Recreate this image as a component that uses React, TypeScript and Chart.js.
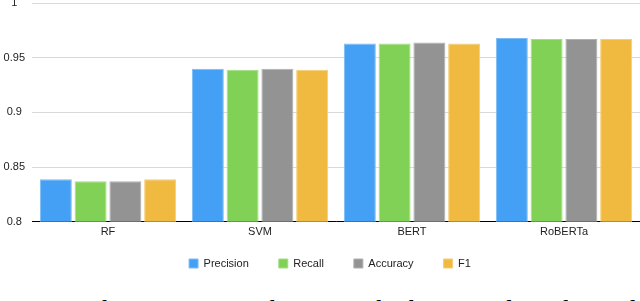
import React, { useEffect, useRef } from "react";
import { Chart, registerables } from "chart.js";

Chart.register(...registerables);

const categories = ["RF", "SVM", "BERT", "RoBERTa"];
const seriesNames = ["Precision", "Recall", "Accuracy", "F1"];
const precision = [0.839, 0.94, 0.963, 0.968];
const recall = [0.837, 0.939, 0.963, 0.967];
const accuracy = [0.837, 0.94, 0.964, 0.967];
const f1 = [0.839, 0.939, 0.963, 0.967];
const yMin = 0.8;
const yMax = 1;
const yStep = 0.05;
const caption = "Fig. 4: The comparison between the best results achieved";

const fills = ["#43a0f5", "#80d156", "#939393", "#f0ba40"];
const edges = ["#7dbcf7", "#a3de86", "#b0b0b0", "#f5cd75"];

const legendShift = {
  id: "legendShift",
  afterLayout(chart: any) {
    const l = chart.legend;
    if (!l) return;
    l.top -= 15;
    l.bottom -= 15;
    l.left += 10;
    l.right += 10;
  },
};

export default function App() {
  const ref = useRef<HTMLCanvasElement | null>(null);

  useEffect(() => {
    if (!ref.current) return;
    const values = [precision, recall, accuracy, f1];
    const chart = new Chart(ref.current, {
      type: "bar",
      data: {
        labels: categories,
        datasets: seriesNames.map((name, i) => ({
          label: name,
          data: values[i],
          backgroundColor: fills[i],
          borderColor: edges[i],
          borderWidth: 1,
          barPercentage: 0.92,
          categoryPercentage: 0.915,
        })),
      },
      options: {
        animation: false,
        responsive: true,
        maintainAspectRatio: false,
        layout: { padding: { top: 3, left: 0, right: 0, bottom: 0 } },
        plugins: {
          tooltip: { enabled: false },
          legend: {
            position: "bottom",
            labels: {
              boxWidth: 9,
              boxHeight: 9,
              padding: 30,
              color: "#222",
              font: { family: "'Liberation Sans', Arial, sans-serif", size: 11 },
            },
          },
        },
        scales: {
          x: {
            grid: { display: false, drawTicks: false },
            border: { display: true, color: "#000", width: 1 },
            ticks: {
              padding: 4,
              color: "#222",
              font: { family: "'Liberation Sans', Arial, sans-serif", size: 11 },
            },
          },
          y: {
            min: yMin,
            max: yMax,
            afterFit(scale: any) {
              scale.width = 32;
              scale.paddingTop = 0;
              scale.paddingBottom = 0;
            },
            grid: { color: "#d9d9d9", drawTicks: false },
            border: { display: false },
            ticks: {
              stepSize: yStep,
              padding: 7,
              crossAlign: "center",
              color: "#222",
              font: { family: "'Liberation Sans', Arial, sans-serif", size: 11 },
              callback: (v: any) => String(Number(Number(v).toFixed(2))),
            },
          },
        },
      },
      plugins: [legendShift],
    });
    return () => chart.destroy();
  }, []);

  return (
    <div style={{ position: "fixed", left: 0, top: 0, width: 640, height: 301, background: "#fff", overflow: "hidden" }}>
      <div style={{ position: "absolute", left: 0, top: 0, width: 640, height: 294 }}>
        <canvas ref={ref} />
      </div>
      <div
        style={{
          position: "absolute",
          left: 7,
          top: 296,
          whiteSpace: "nowrap",
          fontFamily: "'Liberation Serif', 'Times New Roman', serif",
          fontSize: 27.5,
          lineHeight: 1,
          color: "#000",
        }}
      >
        {caption}
      </div>
    </div>
  );
}
